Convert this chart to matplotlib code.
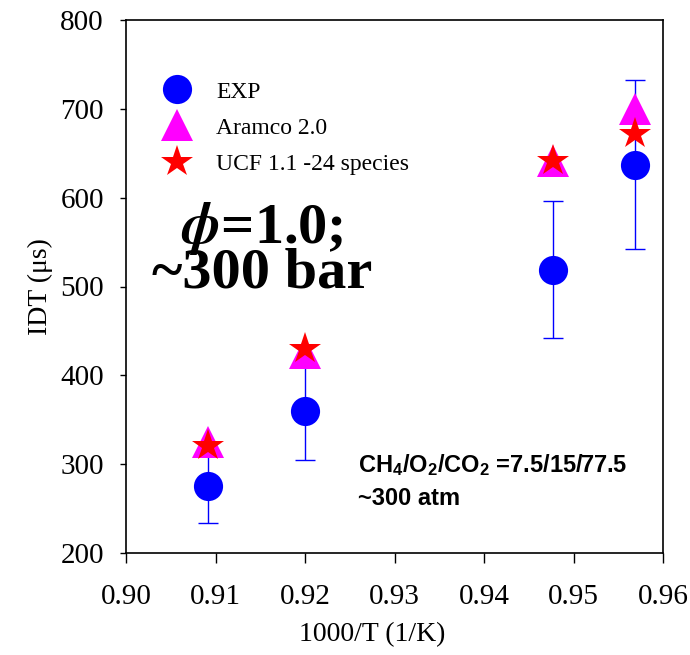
import matplotlib
matplotlib.use("Agg")
import matplotlib.pyplot as plt
from matplotlib.lines import Line2D

plt.rcParams['mathtext.fontset'] = 'custom'
plt.rcParams['mathtext.rm'] = 'Liberation Sans:bold'
plt.rcParams['mathtext.bf'] = 'Liberation Sans:bold'
plt.rcParams['mathtext.it'] = 'Liberation Sans:italic:bold'

x_inv_T = [0.9092, 0.9200, 0.9477, 0.9569]
idt_exp = [275, 360, 519, 637]
idt_err = [41, 55, 77, 95]
idt_aramco = [325, 425, 641, 700]
idt_ucf = [320, 430, 641, 672]

series_labels = ["EXP", "Aramco 2.0", "UCF 1.1 -24 species"]
xticks = [0.90, 0.91, 0.92, 0.93, 0.94, 0.95, 0.96]
yticks = [200, 300, 400, 500, 600, 700, 800]

serif = ['Liberation Serif', 'DejaVu Serif']
sans = ['Liberation Sans', 'DejaVu Sans']

fig = plt.figure(figsize=(6.9, 6.55), dpi=100)
ax = fig.add_axes([126/690, 1-553/655, (663-126)/690, (553-20)/655])

ax.errorbar(x_inv_T, idt_exp, yerr=idt_err, fmt='none', ecolor='#0000ff',
            elinewidth=1.0, capsize=7, capthick=1.0, zorder=2)
ax.plot(x_inv_T, idt_aramco, linestyle='none', marker='^', markersize=23,
        color='#ff00ff', markeredgewidth=0, zorder=3)
ax.plot(x_inv_T, idt_ucf, linestyle='none', marker='*', markersize=24,
        color='#ff0000', markeredgewidth=0, zorder=4)
ax.plot(x_inv_T, idt_exp, linestyle='none', marker='o', markersize=21,
        color='#0000ff', markeredgewidth=0, zorder=5)

ax.set_xlim(0.90, 0.96)
ax.set_ylim(200, 800)
ax.set_xticks(xticks)
ax.set_xticklabels([f"{v:.2f}" for v in xticks], family=serif, fontsize=21)
ax.set_yticks(yticks)
ax.set_yticklabels([str(v) for v in yticks], family=serif, fontsize=21)
ax.tick_params(axis='x', direction='out', length=7, width=1, pad=15)
ax.tick_params(axis='y', direction='out', length=4, width=1, pad=12)
for s in ax.spines.values():
    s.set_linewidth(1.2)

ax.set_xlabel("1000/T (1/K)", family=serif, fontsize=20, va='center')
ax.xaxis.set_label_coords((372-126)/537, (553-635)/533)
ax.set_ylabel("IDT (\u03bcs)", family=serif, fontsize=20, va='center')
ax.yaxis.set_label_coords((40-126)/537, (553-287)/533)

handles = [
    Line2D([], [], linestyle='none', marker='o', markersize=21, color='#0000ff', markeredgewidth=0),
    Line2D([], [], linestyle='none', marker='^', markersize=23, color='#ff00ff', markeredgewidth=0),
    Line2D([], [], linestyle='none', marker='*', markersize=24, color='#ff0000', markeredgewidth=0),
]
leg = ax.legend(handles, series_labels, loc='upper left',
                bbox_to_anchor=((155-126)/537, (553-81)/533),
                frameon=False, prop={'family': serif, 'size': 17},
                handletextpad=0.7, labelspacing=0.62, borderaxespad=0.0,
                borderpad=0.0, handlelength=1.9)

ax.text((262-126)/537, (553-287)/533, "$\\mathbfit{\\phi}$=1.0;\n~300 bar",
        transform=ax.transAxes, family=serif, fontsize=42, fontweight='bold',
        ha='center', va='baseline', multialignment='center', linespacing=0.74,
        math_fontfamily='stix')

ax.text((358-126)/537, (553-472)/533, r"CH$_4$/O$_2$/CO$_2$ =7.5/15/77.5",
        transform=ax.transAxes, family=sans, fontsize=17, fontweight='bold',
        ha='left', va='baseline')
ax.text((358-126)/537, (553-505)/533, "~300 atm", transform=ax.transAxes,
        family=sans, fontsize=17, fontweight='bold', ha='left', va='baseline')

fig.savefig("out.png", dpi=100)
